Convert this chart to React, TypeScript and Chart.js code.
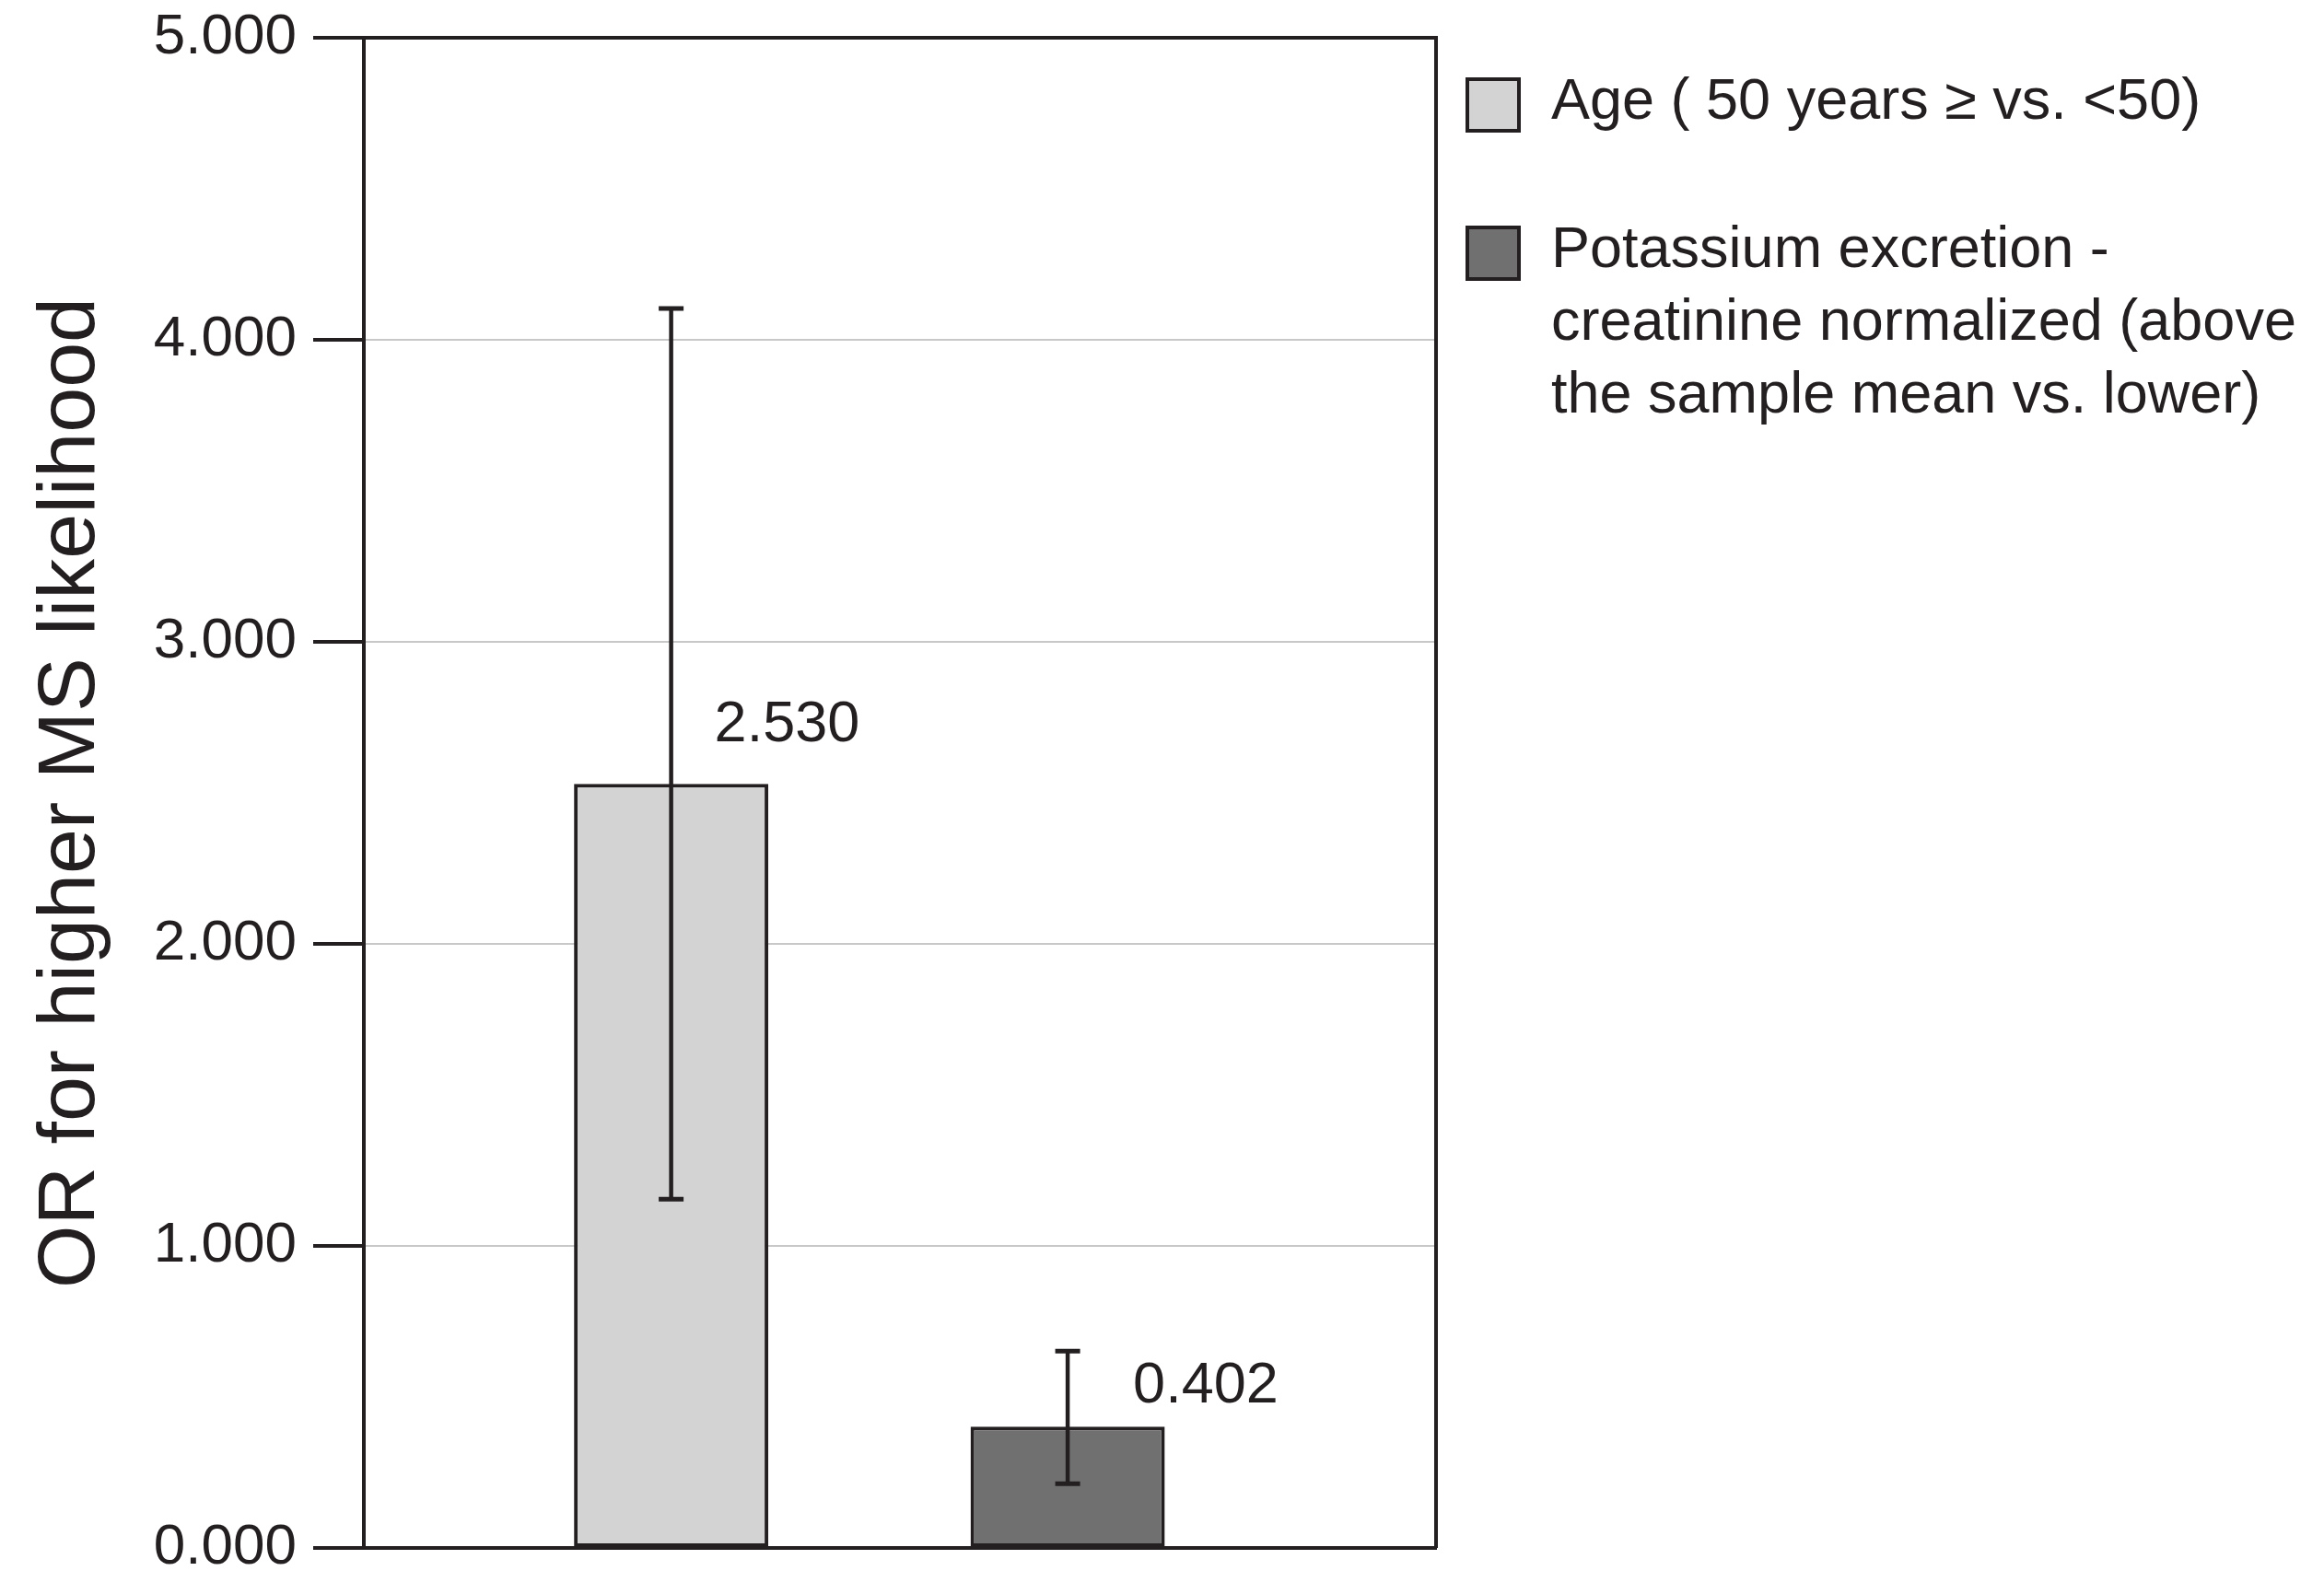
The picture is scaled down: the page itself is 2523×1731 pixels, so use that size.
import React, { useEffect, useRef } from 'react';
import { Chart, registerables } from 'chart.js';

Chart.register(...registerables);

// ---- data ----
const categories = [
  'Age ( 50 years ≥ vs. <50)',
  'Potassium excretion - creatinine normalized (above the sample mean vs. lower)',
];
const legendLines = [
  ['Age ( 50 years ≥ vs. <50)'],
  ['Potassium excretion -', 'creatinine normalized (above', 'the sample mean vs. lower)'],
];
const oddsRatios = [2.53, 0.402];
const ciLower = [1.155, 0.213];
const ciUpper = [4.104, 0.652];
const yTickValues = [0, 1, 2, 3, 4, 5];
const yTitle = 'OR for higher MS likelihood';

// ---- styles ----
const INK = '#231f20';
const barFill = ['#d3d3d3', '#707070'];
const FONT = '"Liberation Sans", Arial, Helvetica, sans-serif';
const labelDx = [47, 71];
const labelLift = [64, 44];

const W = 2523;
const H = 1731;

const framePlugin = {
  id: 'frame',
  beforeDatasetsDraw(chart: any) {
    const { ctx, chartArea } = chart;
    ctx.save();
    ctx.strokeStyle = INK;
    ctx.lineWidth = 4;
    ctx.beginPath();
    ctx.moveTo(chartArea.left, chartArea.top);
    ctx.lineTo(chartArea.right, chartArea.top);
    ctx.lineTo(chartArea.right, chartArea.bottom);
    ctx.stroke();
    ctx.restore();
  },
};

const errorBarPlugin = {
  id: 'errorBars',
  afterDatasetsDraw(chart: any) {
    const { ctx } = chart;
    const xs = chart.scales.x;
    const ys = chart.scales.y;
    ctx.save();
    ctx.strokeStyle = INK;
    ctx.fillStyle = INK;
    oddsRatios.forEach((v, i) => {
      const x = xs.getPixelForValue(i);
      const yT = ys.getPixelForValue(ciUpper[i]);
      const yB = ys.getPixelForValue(ciLower[i]);
      ctx.lineWidth = 4.5;
      ctx.beginPath();
      ctx.moveTo(x, yT);
      ctx.lineTo(x, yB);
      ctx.stroke();
      ctx.lineWidth = 5;
      ctx.beginPath();
      ctx.moveTo(x - 13.5, yT);
      ctx.lineTo(x + 13.5, yT);
      ctx.moveTo(x - 13.5, yB);
      ctx.lineTo(x + 13.5, yB);
      ctx.stroke();
      // value label
      const yv = ys.getPixelForValue(v);
      ctx.font = `63px ${FONT}`;
      ctx.textAlign = 'left';
      ctx.textBaseline = 'middle';
      ctx.fillText(v.toFixed(3), x + labelDx[i], yv - labelLift[i]);
    });
    ctx.restore();
  },
};

const legendPlugin = {
  id: 'sideLegend',
  afterDraw(chart: any) {
    const { ctx, chartArea } = chart;
    const box = 56;
    const lineH = 79;
    const gap = 82;
    const bx = chartArea.right + 34;
    const tx = bx + box + 35;
    let top = chartArea.top + 45;
    ctx.save();
    ctx.font = `63px ${FONT}`;
    ctx.textAlign = 'left';
    ctx.textBaseline = 'middle';
    legendLines.forEach((lines, i) => {
      ctx.fillStyle = barFill[i];
      ctx.fillRect(bx, top, box, box);
      ctx.strokeStyle = INK;
      ctx.lineWidth = 4;
      ctx.strokeRect(bx, top, box, box);
      ctx.fillStyle = INK;
      const cy = top + box / 2;
      lines.forEach((ln, k) => {
        ctx.fillText(ln, tx, cy - 2 + k * lineH);
      });
      top += lines.length * lineH + gap;
    });
    ctx.restore();
  },
};

export default function App() {
  const ref = useRef<HTMLCanvasElement | null>(null);

  useEffect(() => {
    document.body.style.margin = '0';
    const canvas = ref.current;
    if (!canvas) return;
    const chart = new Chart(canvas, {
      type: 'bar',
      data: {
        labels: categories,
        datasets: [
          {
            label: 'OR',
            data: oddsRatios.map((v, i) => ({ x: i, y: v })),
            backgroundColor: barFill,
            borderColor: INK,
            borderWidth: 4,
            borderSkipped: false,
            barPercentage: 0.49,
            categoryPercentage: 1,
          },
        ],
      },
      options: {
        animation: false,
        responsive: true,
        maintainAspectRatio: false,
        layout: {
          autoPadding: false,
          padding: { left: 0, top: 41, right: W - 1559, bottom: H - 1681 },
        },
        plugins: {
          legend: { display: false },
          tooltip: { enabled: false },
        },
        scales: {
          x: {
            type: 'linear',
            offset: false,
            min: -0.775,
            max: 1.929,
            afterBuildTicks: (scale: any) => {
              scale.ticks = oddsRatios.map((_, i) => ({ value: i }));
            },
            ticks: { display: false },
            grid: { display: false, drawTicks: false },
            border: { display: true, color: INK, width: 4 },
          },
          y: {
            min: 0,
            max: 5,
            afterBuildTicks: (scale: any) => {
              scale.ticks = yTickValues.map((v) => ({ value: v }));
            },
            afterFit: (scale: any) => {
              scale.width = 395;
            },
            ticks: {
              color: INK,
              font: { family: FONT, size: 62, lineHeight: 0.6 },
              padding: 18,
              callback: (v: any) => Number(v).toFixed(3),
            },
            grid: {
              color: '#c8c8c8',
              lineWidth: 2,
              tickColor: INK,
              tickWidth: 4,
              tickLength: 55,
              drawTicks: true,
            },
            border: { display: true, color: INK, width: 4 },
            title: {
              display: true,
              text: yTitle,
              color: INK,
              font: { family: FONT, size: 88, lineHeight: 1 },
              padding: { top: 34, bottom: 0 },
            },
          },
        },
      },
      plugins: [framePlugin, errorBarPlugin, legendPlugin],
    });
    return () => chart.destroy();
  }, []);

  return (
    <div style={{ position: 'fixed', left: 0, top: 0, width: W, height: H, background: '#fff' }}>
      <canvas ref={ref} />
    </div>
  );
}
